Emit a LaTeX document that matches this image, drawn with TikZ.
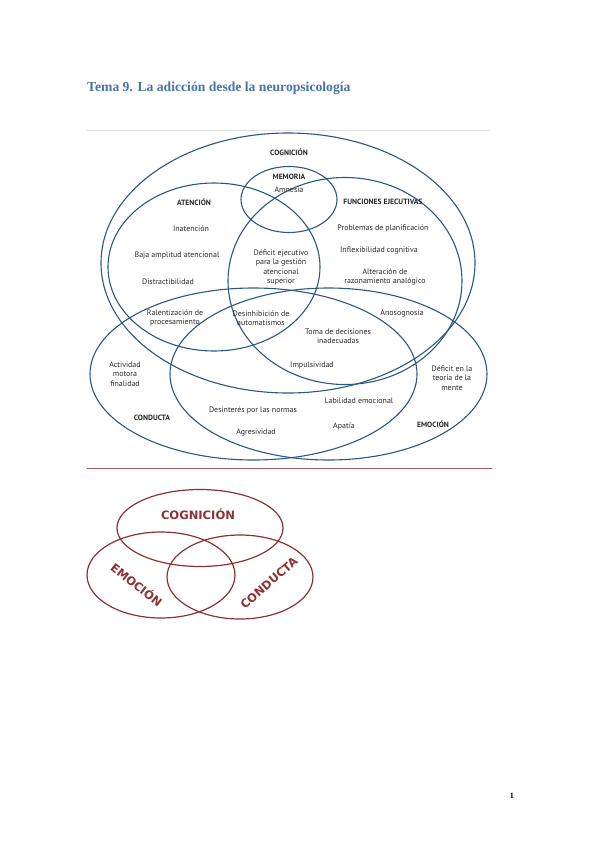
\documentclass[tikz,border=0pt]{standalone}
\usepackage{fontspec}
\setmainfont{PT Sans}
\newfontfamily\titlefont{Liberation Serif}
\newfontfamily\venfont{DejaVu Sans}
\usetikzlibrary{positioning}
\definecolor{venblue}{RGB}{44,88,130}
\definecolor{titleblue}{RGB}{74,114,168}
\definecolor{venred}{RGB}{140,50,50}
\definecolor{rulered}{RGB}{170,90,90}
\definecolor{txtgray}{RGB}{40,40,40}

\begin{document}
\begin{tikzpicture}[x=0.35mm, y=-0.35mm, line cap=round, line join=round,
    ring/.style={draw=venblue, line width=1.1pt},
    lbl/.style={font=\fontsize{7.9}{9.2}\selectfont, text=txtgray, align=center, inner sep=0pt},
    head/.style={lbl, font=\fontsize{7.6}{9}\selectfont\bfseries},
    redring/.style={draw=venred, line width=1.2pt},
    redlbl/.style={font=\venfont\bfseries\fontsize{11.5}{13}\selectfont, text=venred, inner sep=0pt}]
  \useasboundingbox (0,0) rectangle (600,848);
  % ================= title =================
  \node[anchor=west, inner sep=0pt, text=titleblue,
        font=\bfseries\titlefont\fontsize{13.6}{16}\selectfont] (title) at (87,88)
      {Tema 9. La adicción desde la neuropsicología};
  % ================= upper diagram =================
  \draw[black!12, line width=0.5pt] (87,130) -- (490,130);
  % cognicion and its parts
  \draw[ring] (288,263) ellipse [x radius=187, y radius=130];
  \draw[ring] (289,199.5) ellipse [x radius=48, y radius=33];
  \draw[ring] (214,267) ellipse [x radius=106, y radius=84];
  \draw[ring] (345,281) ellipse [x radius=117, y radius=103.5];
  % conducta and emocion
  \draw[ring] (253.5,374) ellipse [x radius=163.5, y radius=86];
  \draw[ring] (328.5,374) ellipse [x radius=158.5, y radius=86];
  % headings
  \node[head] (cog) at (289,152) {COGNICIÓN};
  \node[head] (mem) at (289,177) {MEMORIA};
  \node[head] (ate) at (194,202) {ATENCIÓN};
  \node[head] (fej) at (383,202) {FUNCIONES EJECUTIVAS};
  \node[head] (con) at (152,418) {CONDUCTA};
  \node[head] (emo) at (433,424) {EMOCIÓN};
  % symptoms
  \node[lbl] (amn) at (289,190) {Amnesia};
  \node[lbl] (ina) at (191,229) {Inatención};
  \node[lbl] (baj) at (177,256) {Baja amplitud atencional};
  \node[lbl] (dis) at (168,282) {Distractibilidad};
  \node[lbl] (dej) at (281,267.5) {Déficit ejecutivo\\para la gestión\\atencional\\superior};
  \node[lbl] (pro) at (383,228) {Problemas de planificación};
  \node[lbl] (inf) at (379,251) {Inflexibilidad cognitiva};
  \node[lbl] (alt) at (385,277) {Alteración de\\razonamiento analógico};
  \node[lbl] (ral) at (175,318) {Ralentización de\\procesamiento};
  \node[lbl] (des) at (261,318) {Desinhibición de\\automatismos};
  \node[lbl] (ano) at (402,314) {Anosognosia};
  \node[lbl] (tom) at (338,336) {Toma de decisiones\\inadecuadas};
  \node[lbl] (imp) at (312,365) {Impulsividad};
  \node[lbl] (act) at (125,374) {Actividad\\motora\\finalidad};
  \node[lbl] (dte) at (452,378) {Déficit en la\\teoría de la\\mente};
  \node[lbl] (lab) at (359,401) {Labilidad emocional};
  \node[lbl] (dno) at (253,410) {Desinterés por las normas};
  \node[lbl] (apa) at (344,426) {Apatía};
  \node[lbl] (agr) at (256,433) {Agresividad};
  % separator
  \draw[rulered, line width=0.6pt] (87,468) -- (492,468);
  % ================= lower diagram =================
  \draw[redring] (200,528) ellipse [x radius=83, y radius=38.5];
  \draw[redring] (161,575) ellipse [x radius=74, y radius=43];
  \draw[redring] (240,577) ellipse [x radius=73, y radius=42];
  \node[redlbl] (cogb) at (198,514) {COGNICIÓN};
  \node[redlbl, rotate=-38] (emob) at (137,584) {EMOCIÓN};
  \node[redlbl, rotate=41] (conb) at (269,583) {CONDUCTA};
  % ================= page number =================
  \node[inner sep=0pt, font=\bfseries\titlefont\fontsize{8}{9}\selectfont] (page) at (512,796) {1};
\end{tikzpicture}
\end{document}
